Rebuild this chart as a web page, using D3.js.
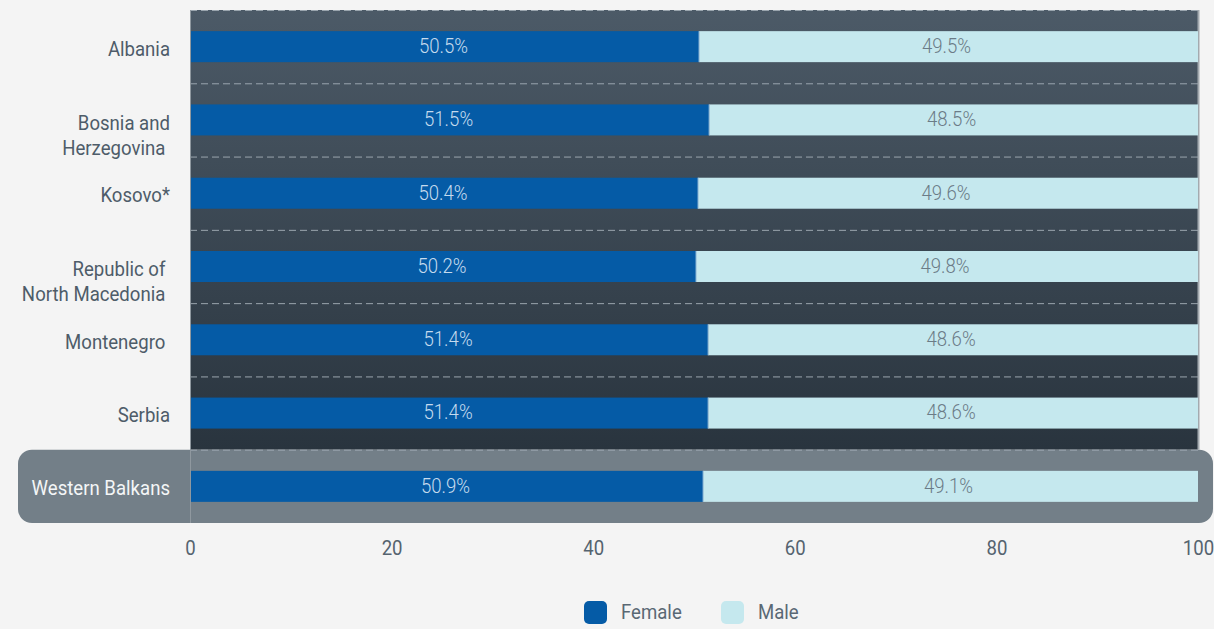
<!DOCTYPE html>
<html><head><meta charset="utf-8">
<script src="https://cdn.jsdelivr.net/npm/d3@7/dist/d3.min.js"></script>
<style>
html,body{margin:0;padding:0;background:#f4f4f4;}
svg{display:block;font-family:Roboto,"Noto Sans",sans-serif;}
text{white-space:pre;}
</style></head>
<body>
<svg id="chart" width="1214" height="629"></svg>
<script>
const categories = ["Albania","Bosnia and Herzegovina","Kosovo*","Republic of North Macedonia","Montenegro","Serbia","Western Balkans"];
const categoryLines = [["Albania"],["Bosnia and","Herzegovina "],["Kosovo*"],["Republic of ","North Macedonia "],["Montenegro "],["Serbia"],["Western Balkans"]];
const female = [50.5,51.5,50.4,50.2,51.4,51.4,50.9];
const male = [49.5,48.5,49.6,49.8,48.6,48.6,49.1];
const xTicks = [0,20,40,60,80,100];
const seriesNames = ["Female","Male"];

(function(){
const svg = d3.select("#chart");
const pL = 190, pR = 1198, pT = 10, pB = 523;
const SX = 0.886, FS = 21;
const x = d3.scaleLinear().domain([0,100]).range([pL,pR]);
const y = d3.scaleBand().domain(categories).range([pT,pB]).paddingInner(0).paddingOuter(0);
const barH = 31;

function ctext(sel, tx, ty, str, anchor, fill, size, weight){
  return sel.append("text")
    .attr("transform",`translate(${tx},${ty}) scale(${SX},1)`)
    .attr("x",0).attr("y",0).attr("dy","0.35em")
    .attr("text-anchor",anchor).attr("font-size",size||FS).attr("font-weight",weight||400)
    .attr("fill",fill).text(str);
}

const defs = svg.append("defs");
const grad = defs.append("linearGradient").attr("id","bg").attr("x1",0).attr("y1",0).attr("x2",0).attr("y2",1);
grad.append("stop").attr("offset","0%").attr("stop-color","#4c5a67");
grad.append("stop").attr("offset","100%").attr("stop-color","#29343e");

const last = categories[categories.length-1];
svg.append("rect").attr("x",pL).attr("y",pT).attr("width",pR-pL)
  .attr("height",y(last)-pT).attr("fill","url(#bg)");
svg.append("rect").attr("x",18).attr("y",y(last)).attr("width",1213-18).attr("height",y.bandwidth())
  .attr("rx",14).attr("fill","#737f88");

const seps = categories.map(c=>y(c));
svg.append("g").selectAll("line").data(seps).join("line")
  .attr("x1",pL).attr("x2",pR).attr("y1",d=>d+0.5).attr("y2",d=>d+0.5)
  .attr("stroke","#9aa5ae").attr("stroke-width",1).attr("stroke-dasharray","7,4");

svg.append("line").attr("x1",pL+0.5).attr("x2",pL+0.5).attr("y1",pT).attr("y2",pB)
  .attr("stroke","#8f989f").attr("stroke-width",1);
svg.append("line").attr("x1",pR+0.5).attr("x2",pR+0.5).attr("y1",pT).attr("y2",y(last))
  .attr("stroke","#a3aaaf").attr("stroke-width",2);

const rows = categories.map((c,i)=>({c,f:female[i],m:male[i]}));
const g = svg.append("g");
g.selectAll(".f").data(rows).join("rect").attr("class","f")
  .attr("x",x(0)+1).attr("y",d=>y(d.c)+y.bandwidth()/2-barH/2)
  .attr("width",d=>x(d.f)-x(0)-1).attr("height",barH).attr("fill","#055ba6");
g.selectAll(".m").data(rows).join("rect").attr("class","m")
  .attr("x",d=>x(d.f)).attr("y",d=>y(d.c)+y.bandwidth()/2-barH/2)
  .attr("width",d=>x(d.f+d.m)-x(d.f)).attr("height",barH).attr("fill","#c5e8ee");
g.selectAll(".d").data(rows).join("line").attr("class","d")
  .attr("x1",d=>x(d.f)).attr("x2",d=>x(d.f)).attr("y1",d=>y(d.c)+y.bandwidth()/2-barH/2)
  .attr("y2",d=>y(d.c)+y.bandwidth()/2+barH/2).attr("stroke","#8fb6d6").attr("stroke-width",1);

rows.forEach(d=>{
  const cy = y(d.c)+y.bandwidth()/2;
  ctext(g, x(d.f/2)-1, cy-1, d.f.toFixed(1)+"%", "middle", "#c6dbee", 21, 300);
  ctext(g, x(d.f+d.m/2)-2, cy-1, d.m.toFixed(1)+"%", "middle", "#6b7b87", 21, 300);
});

const lab = svg.append("g");
categories.forEach((c,i)=>{
  const lines = categoryLines[i];
  const cy = y(c)+y.bandwidth()/2;
  lines.forEach((ln,j)=>{
    ctext(lab, 170, lines.length===1 ? cy+1.5 : cy+2.5+j*25, ln, "end",
      c===last ? "#f4f6f7" : "#4e5c69");
  });
});

const axis = d3.axisBottom(x).tickValues(xTicks).tickSize(0).tickPadding(0).tickFormat(d3.format("d"));
const ax = svg.append("g").attr("transform",`translate(0,${pB})`).call(axis);
ax.select(".domain").remove();
ax.selectAll(".tick text").each(function(d){
  const t = d3.select(this);
  t.attr("transform",`translate(0,25) scale(${SX},1)`).attr("y",0).attr("dy","0.35em")
   .attr("font-size",FS).attr("fill","#55636f").attr("font-family","Roboto");
});

const colors = ["#055ba6","#c5e8ee"];
const legX = [584,721];
const leg = svg.append("g");
seriesNames.forEach((n,i)=>{
  leg.append("rect").attr("x",legX[i]).attr("y",601).attr("width",23).attr("height",23).attr("rx",5)
    .attr("fill",colors[i]);
  ctext(leg, legX[i]+37, 612, n, "start", "#5a6874", FS);
});
})();
</script>
</body></html>
